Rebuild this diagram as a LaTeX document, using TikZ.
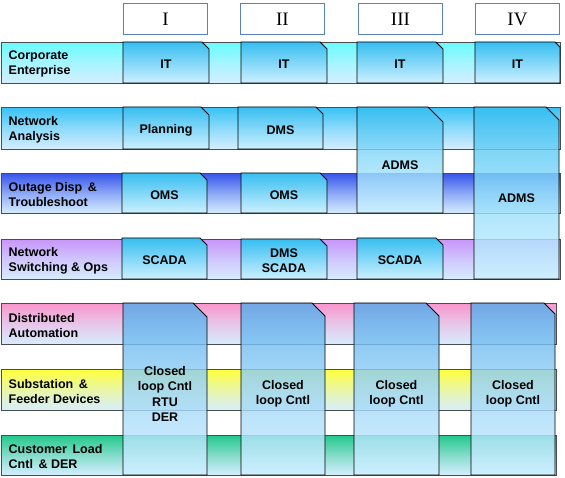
\documentclass[tikz,border=0pt]{standalone}
\usepackage{fontspec}
\setmainfont{Liberation Serif}
\setsansfont{Liberation Sans}
\usetikzlibrary{positioning,shadows}

\definecolor{barlight}{RGB}{214,238,255}
\definecolor{corpcol}{RGB}{105,252,255}
\definecolor{netcol}{RGB}{55,195,245}
\definecolor{outcol}{RGB}{55,85,235}
\definecolor{swcol}{RGB}{200,150,250}
\definecolor{dacol}{RGB}{250,150,205}
\definecolor{subcol}{RGB}{255,255,60}
\definecolor{custcol}{RGB}{35,200,140}
\definecolor{celltop}{RGB}{55,190,240}
\definecolor{celllow}{RGB}{205,240,255}
\definecolor{talltop}{RGB}{85,172,235}
\definecolor{phaseline}{RGB}{90,130,185}

\begin{document}
\begin{tikzpicture}[x=1pt,y=-1pt,
    phase/.style={draw=phaseline,line width=0.9pt,fill=white,anchor=north west,
      minimum width=84pt,minimum height=31pt,inner sep=0pt,font=\fontsize{19}{21}\selectfont,
      drop shadow={shadow xshift=1pt,shadow yshift=-1pt,opacity=0.25}},
    rowbar/.style={draw=black!70,line width=0.8pt,anchor=north west,inner sep=0pt,
      minimum width=559pt,minimum height=41pt,
      top color=#1,bottom color=barlight,middle color=#1!45!barlight},
    rowlabel/.style={font=\sffamily\bfseries\fontsize{12.5}{15}\selectfont,align=left,inner sep=0pt},
    celltext/.style={font=\sffamily\bfseries\fontsize{12.5}{15.3}\selectfont,align=center,inner sep=0pt},
    cellshade/.style={draw=black,line width=0.8pt,
      top color=celltop,bottom color=celllow,middle color=celltop!50!celllow},
    tallshade/.style={cellshade,top color=#1,bottom color=celllow,middle color=#1!40!celllow,
      fill opacity=0.82,draw opacity=1},
    % kasse med skaaret hjoerne: bredde/hoejde/hjoerne/tekst
    pics/cellbox/.style n args={4}{code={
      \path[cellshade] (0,0) -- (#1-#3,0) -- (#1,#3) -- (#1,#2) -- (0,#2) -- cycle;
      \node[celltext] (-txt) at (#1/2,#2/2+2) {#4};
    }},
    pics/tallbox/.style n args={5}{code={
      \path[tallshade=#5] (0,0) -- (#1-#3,0) -- (#1,#3) -- (#1,#2) -- (0,#2) -- cycle;
      \node[celltext] (-txt) at (#1/2,#2/2+5) {#4};
    }}]
    \useasboundingbox (0,0) rectangle (565,478);
    % Faser oeverst
    \node[phase] (phI) at (123,3) {I};
    \node[phase] (phII) at (240,3) {II};
    \node[phase] (phIII) at (358,3) {III};
    \node[phase] (phIV) at (475,3) {IV};
    % Raekkerne med farveforloeb
    \node[rowbar=corpcol] (rCorp) at (0.5,42) {};
    \node[rowbar=netcol,minimum height=42pt] (rNet) at (0.5,107) {};
    \node[rowbar=outcol,minimum height=40pt] (rOut) at (0.5,173) {};
    \node[rowbar=swcol,minimum height=40pt] (rSw) at (0.5,239) {};
    \node[rowbar=dacol,minimum width=555pt] (rDA) at (0.5,303) {};
    \node[rowbar=subcol,minimum width=555pt] (rSub) at (0.5,369) {};
    \node[rowbar=custcol,minimum width=555pt,minimum height=40pt] (rCust) at (0.5,435) {};
    \node[rowlabel,right=8pt of rCorp.west,yshift=-1.5pt] (lCorp) {Corporate\\Enterprise};
    \node[rowlabel,right=8pt of rNet.west,yshift=-1.5pt] (lNet) {Network\\Analysis};
    \node[rowlabel,right=8pt of rOut.west,yshift=-1.5pt] (lOut) {Outage Disp \,\&\\Troubleshoot};
    \node[rowlabel,right=8pt of rSw.west,yshift=-1.5pt] (lSw) {Network\\Switching \& Ops};
    \node[rowlabel,right=8pt of rDA.west,yshift=-1.5pt] (lDA) {Distributed\\Automation};
    \node[rowlabel,right=8pt of rSub.west,yshift=-1.5pt] (lSub) {Substation \,\&\\Feeder Devices};
    \node[rowlabel,right=8pt of rCust.west,yshift=-1.5pt] (lCust) {Customer \,Load\\Cntl \,\& DER};
    % Smaa kasser
    \pic (itI) at (123,42) {cellbox={86}{41}{7}{IT}};
    \pic (itII) at (241,42) {cellbox={86}{41}{7}{IT}};
    \pic (itIII) at (357,42) {cellbox={86}{41}{7}{IT}};
    \pic (itIV) at (475,42) {cellbox={85}{41}{5}{IT}};
    \pic (plan) at (123,107) {cellbox={86}{42}{8}{Planning}};
    \pic (dmsII) at (238,107) {cellbox={85}{42}{7}{DMS}};
    \pic (omsI) at (122,173) {cellbox={85}{40}{7}{OMS}};
    \pic (omsII) at (241,173) {cellbox={86}{40}{7}{OMS}};
    \pic (scI) at (122,238) {cellbox={85}{41}{7}{SCADA}};
    \pic (dsII) at (241,239) {cellbox={86}{40}{7}{DMS\\SCADA}};
    \pic (scIII) at (357,238) {cellbox={86}{41}{7}{SCADA}};
    % Hoeje kasser over flere raekker
    \pic (admsIII) at (357,107) {tallbox={86}{106}{15}{ADMS}{celltop}};
    \pic (admsIV) at (474,107) {tallbox={85}{172}{13}{ADMS}{celltop}};
    \pic (clI) at (123,303) {tallbox={84}{172}{14}{Closed\\loop Cntl\\RTU\\DER}{talltop}};
    \pic (clII) at (241,303) {tallbox={84}{172}{13}{Closed\\loop Cntl}{talltop}};
    \pic (clIII) at (354,303) {tallbox={85}{172}{13}{Closed\\loop Cntl}{talltop}};
    \pic (clIV) at (471,303) {tallbox={84}{172}{11}{Closed\\loop Cntl}{talltop}};
\end{tikzpicture}
\end{document}
